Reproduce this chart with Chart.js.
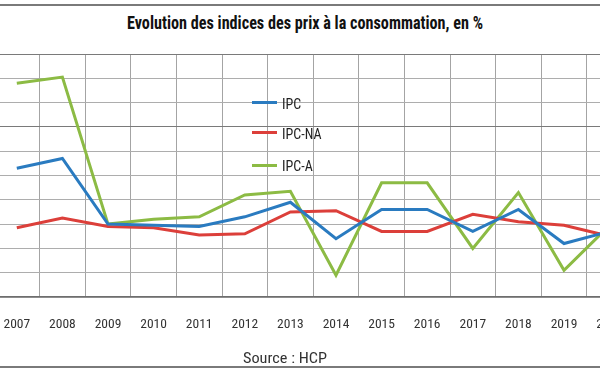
<!DOCTYPE html>
<html>
<head>
<meta charset="utf-8">
<script src="https://cdn.jsdelivr.net/npm/chart.js@4.4.1/dist/chart.umd.min.js"></script>
<style>
  html, body { margin: 0; padding: 0; background: #fff; }
  #wrap { position: relative; width: 600px; height: 372px; overflow: hidden; background: #fff; }
  #frameTop { position: absolute; left: 0; top: 4px; width: 600px; height: 0; border-top: 2px solid #7a7a7a; }
  #frameBot { position: absolute; left: 0; top: 366px; width: 600px; height: 0; border-top: 2px solid #7a7a7a; }
  .txt { position: absolute; white-space: nowrap; transform-origin: 0 0; line-height: 1; }
  #title { font-family: "Roboto Condensed", "DejaVu Sans Condensed", sans-serif; font-weight: bold; font-size: 18px; color: #111; }
  #source { font-family: "Roboto Condensed", "DejaVu Sans Condensed", sans-serif; font-size: 14px; color: #333; }
  .lgLine { position: absolute; width: 25px; height: 3px; }
  .lgText { position: absolute; font-family: "Roboto Condensed", "DejaVu Sans Condensed", sans-serif; font-size: 14px; line-height: 16px; color: #222; white-space: nowrap; }
  #cv { position: absolute; left: -6px; top: 0; }
</style>
</head>
<body>
<div id="wrap">
  <div id="frameTop"></div>
  <div id="title" class="txt">Evolution des indices des prix à la consommation, en %</div>
  <canvas id="cv" width="660" height="372"></canvas>
  <div id="legend"></div>
  <div id="source" class="txt">Source : HCP</div>
  <div id="frameBot"></div>
</div>
<script>
const years = ['2007','2008','2009','2010','2011','2012','2013','2014','2015','2016','2017','2018','2019','2020'];
const ipc   = [3.3, 3.7, 1.0, 0.95, 0.9, 1.3, 1.9, 0.4, 1.6, 1.6, 0.7, 1.6, 0.2, 0.7];
const ipcNA = [0.85, 1.25, 0.9, 0.85, 0.55, 0.6, 1.5, 1.55, 0.7, 0.7, 1.4, 1.1, 0.95, 0.5];
const ipcA  = [6.8, 7.05, 1.0, 1.2, 1.3, 2.2, 2.35, -1.1, 2.7, 2.7, 0.0, 2.3, -0.9, 0.95];
const seriesNames = ['IPC', 'IPC-NA', 'IPC-A'];
const seriesColors = ['#2a7bc0', '#dc3f3a', '#8cbb44'];

const FONT = '"Roboto Condensed", "DejaVu Sans Condensed", sans-serif';

function fitText(id, targetW, cx, cy) {
  const el = document.getElementById(id);
  const r = el.getBoundingClientRect();
  el.style.left = (cx - targetW / 2) + 'px';
  el.style.top = (cy - r.height / 2) + 'px';
  el.style.transform = 'scaleX(' + (targetW / r.width) + ')';
}
fitText('title', 356, 305, 22.5);
fitText('source', 84, 285, 358);

// HTML legend inside the plot area
(function buildLegend() {
  const lg = document.getElementById('legend');
  const ys = [102.5, 132.5, 165];
  seriesNames.forEach((name, i) => {
    const ln = document.createElement('div');
    ln.className = 'lgLine';
    ln.style.left = '252px';
    ln.style.top = (ys[i] - 1.5) + 'px';
    ln.style.background = seriesColors[i];
    lg.appendChild(ln);
    const tx = document.createElement('div');
    tx.className = 'lgText';
    tx.style.left = '282px';
    tx.style.top = (ys[i] - 7) + 'px';
    tx.textContent = name;
    lg.appendChild(tx);
  });
})();

new Chart(document.getElementById('cv'), {
  type: 'line',
  data: {
    labels: years,
    datasets: [
      { label: seriesNames[0], data: ipc,   borderColor: seriesColors[0] },
      { label: seriesNames[1], data: ipcNA, borderColor: seriesColors[1] },
      { label: seriesNames[2], data: ipcA,  borderColor: seriesColors[2] }
    ].map(d => Object.assign(d, { borderWidth: 3, pointRadius: 0, tension: 0, fill: false }))
  },
  options: {
    responsive: false,
    animation: false,
    devicePixelRatio: 1,
    layout: { padding: { top: 54, left: 0, right: 21.6, bottom: 0 } },
    plugins: { legend: { display: false }, title: { display: false }, tooltip: { enabled: false } },
    scales: {
      x: {
        type: 'category',
        offset: true,
        grid: { display: true, offset: true, drawTicks: false, color: '#a4a4a4', lineWidth: 1 },
        border: { display: true, color: '#6e6e6e', width: 1.5 },
        ticks: { padding: 20, color: '#333', font: { family: FONT, size: 13.5 }, maxRotation: 0, autoSkip: false },
        afterFit(scale) { scale.height = 75; scale.paddingLeft = 0; scale.paddingRight = 0; }
      },
      y: {
        min: -2, max: 8,
        ticks: { stepSize: 1, display: false },
        grid: {
          drawTicks: false,
          color: (c) => (c.tick && (c.tick.value === 8 || c.tick.value === 5)) ? '#7a7a7a' : '#adadad'
        },
        border: { display: false },
        afterFit(scale) { scale.width = 0; }
      }
    }
  }
});
</script>
</body>
</html>
